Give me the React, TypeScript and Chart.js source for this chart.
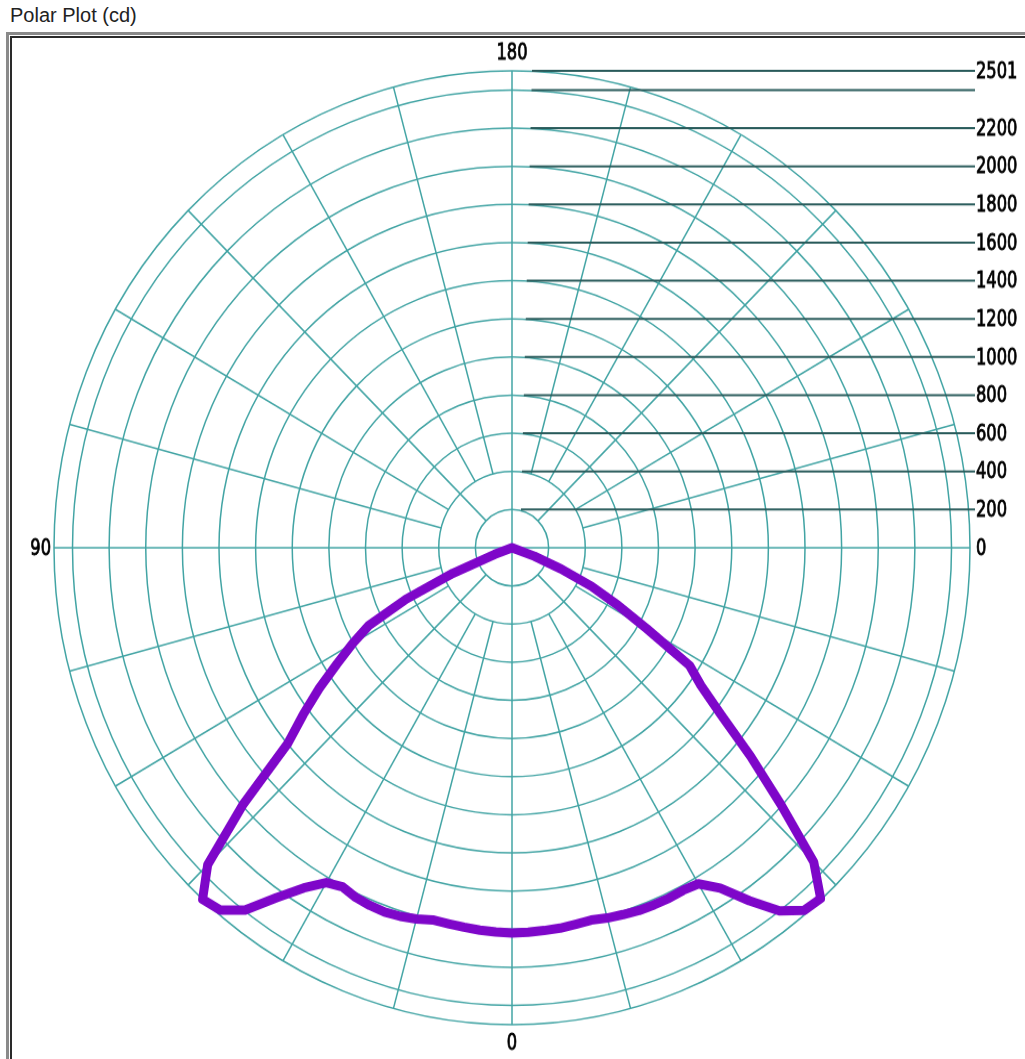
import React, { useEffect, useRef } from 'react';
import { Chart, registerables } from 'chart.js';

Chart.register(...registerables);

// ---- data ----
const STEP = 2.5;
// gamma angles (degrees from nadir) for each half-plane
const gammaAngles = [0, 2.5, 5, 7.5, 10, 12.5, 15, 17.5, 20, 22.5, 25, 27.5, 30, 32.5, 35, 37.5, 40, 42.5, 45,
  47.5, 50, 52.5, 55, 57.5, 60, 62.5, 65, 67.5, 70, 72.5, 75, 77.5, 80, 82.5, 85, 87.5, 90,
  92.5, 95, 97.5, 100, 102.5, 105, 107.5, 110, 112.5, 115, 117.5, 120, 122.5, 125, 127.5, 130, 132.5, 135,
  137.5, 140, 142.5, 145, 147.5, 150, 152.5, 155, 157.5, 160, 162.5, 165, 167.5, 170, 172.5, 175, 177.5, 180];
// left half (drawn on the left of the plot), cd
const intensityLeft = [2021, 2017, 2013, 2007, 2002, 1999, 2015, 2027, 2033, 2030, 2022, 2005, 2028, 2115, 2240, 2395, 2480, 2501, 2350,
  1990, 1600, 1437, 1285, 1133, 1005, 880, 638, 350, 100, 0, 0, 0, 0, 0, 0, 0, 0,
  0, 0, 0, 0, 0, 0, 0, 0, 0, 0, 0, 0, 0, 0, 0, 0, 0, 0,
  0, 0, 0, 0, 0, 0, 0, 0, 0, 0, 0, 0, 0, 0, 0, 0, 0, 0];
// right half (drawn on the right of the plot), cd
const intensityRight = [2020, 2018, 2015, 2012, 2005, 2000, 2010, 2017, 2025, 2027, 2028, 2025, 2035, 2116, 2260, 2400, 2482, 2495, 2330,
  1990, 1700, 1440, 1260, 1150, 850, 650, 480, 290, 130, 0, 0, 0, 0, 0, 0, 0, 0,
  0, 0, 0, 0, 0, 0, 0, 0, 0, 0, 0, 0, 0, 0, 0, 0, 0, 0,
  0, 0, 0, 0, 0, 0, 0, 0, 0, 0, 0, 0, 0, 0, 0, 0, 0, 0];

const ringTicks = [0, 200, 400, 600, 800, 1000, 1200, 1400, 1600, 1800, 2000, 2200, 2400, 2501];
const ringLabels = ['0', '200', '400', '600', '800', '1000', '1200', '1400', '1600', '1800', '2000', '2200', '', '2501'];
const spokeAngles = [0, 15, 30, 45, 60, 75, 90, 105, 120, 135, 150, 165, 180, 195, 210, 225, 240, 255, 270, 285, 300, 315, 330, 345];
const axisLabels = [
  { angle: 0, text: '0' },
  { angle: 90, text: '90' },
  { angle: 180, text: '180' },
];

// ---- styling ----
const GRID = '#42a4a4';
const TICKLINE = '#285a5a';
const CURVE = '#7e06c9';
const FONT = '22px "DejaVu Sans", Verdana, sans-serif';
const TEXT_SQUEEZE = 0.74;
const PAGE_W = 1025;
const PAGE_H = 1059;
const STRETCH = 1.0414;
const CANVAS_H = Math.round(PAGE_H / STRETCH);

// labels/data around the full circle: left half 0..180, then right half back down to just above 0
const fullGammas: number[] = [];
const fullValues: number[] = [];
gammaAngles.forEach((g, i) => { fullGammas.push(g); fullValues.push(intensityLeft[i]); });
for (let i = gammaAngles.length - 2; i >= 1; i--) {
  fullGammas.push(gammaAngles[i]);
  fullValues.push(intensityRight[i]);
}

function narrowText(ctx: CanvasRenderingContext2D, text: string, x: number, y: number, align: CanvasTextAlign) {
  ctx.save();
  ctx.translate(x, y);
  ctx.scale(TEXT_SQUEEZE, 1);
  ctx.textAlign = align;
  ctx.fillText(text, 0, 0);
  ctx.lineWidth = 0.9;
  ctx.strokeStyle = '#000';
  ctx.strokeText(text, 0, 0);
  ctx.restore();
}

const decorPlugin = {
  id: 'polarDecor',
  beforeDatasetsDraw(chart: any) {
    const s = chart.scales.r;
    const ctx = chart.ctx as CanvasRenderingContext2D;
    const maxV = ringTicks[ringTicks.length - 1];
    ctx.save();
    // spokes
    ctx.strokeStyle = GRID;
    ctx.lineWidth = 1.5;
    spokeAngles.forEach((a) => {
      const idx = a / STEP;
      const startV = a % 90 === 0 ? 0 : a % 45 === 0 ? ringTicks[1] : ringTicks[2];
      const p0 = s.getPointPositionForValue(idx, startV);
      const p1 = s.getPointPositionForValue(idx, maxV);
      ctx.beginPath();
      ctx.moveTo(p0.x, p0.y);
      ctx.lineTo(p1.x, p1.y);
      ctx.stroke();
    });
    // radial value lines and labels on the right
    const xEnd = s.xCenter + s.drawingArea + 5;
    ctx.font = FONT;
    ctx.textBaseline = 'middle';
    ctx.fillStyle = '#000';
    ringTicks.forEach((v, i) => {
      const y = s.yCenter - s.getDistanceFromCenterForValue(v);
      if (v > 0) {
        ctx.strokeStyle = TICKLINE;
        ctx.lineWidth = 2;
        ctx.beginPath();
        ctx.moveTo(s.xCenter + 8 + (12 * v) / maxV, y);
        ctx.lineTo(xEnd, y);
        ctx.stroke();
      }
      if (ringLabels[i]) narrowText(ctx, ringLabels[i], xEnd + 1, y + 1, 'left');
    });
    // angle labels
    axisLabels.forEach(({ angle, text }) => {
      const idx = angle / STEP;
      const p = s.getPointPositionForValue(idx, maxV);
      if (angle === 180) {
        narrowText(ctx, text, p.x, p.y - 17, 'center');
      } else if (angle === 0) {
        narrowText(ctx, text, p.x, p.y + 18, 'center');
      } else {
        narrowText(ctx, text, p.x - 3, p.y + 1, 'right');
      }
    });
    ctx.restore();
  },
};

export default function App() {
  const canvasRef = useRef<HTMLCanvasElement | null>(null);

  useEffect(() => {
    if (!canvasRef.current) return;
    const R = 458;
    const cx = 512;
    const cy = 526;
    const chart = new Chart(canvasRef.current, {
      type: 'radar',
      data: {
        labels: fullGammas.map((g) => String(g)),
        datasets: [
          {
            data: fullValues,
            borderColor: CURVE,
            borderWidth: 9,
            pointRadius: 0,
            fill: false,
            tension: 0,
            borderJoinStyle: 'round',
          },
        ],
      },
      options: {
        responsive: false,
        animation: false,
        layout: {
          padding: { left: cx - R, top: cy - R, right: PAGE_W - (cx + R), bottom: CANVAS_H - (cy + R) },
        },
        plugins: { legend: { display: false }, tooltip: { enabled: false } },
        scales: {
          r: {
            min: 0,
            max: 2501,
            startAngle: 180,
            afterBuildTicks: (scale: any) => {
              scale.ticks = ringTicks.map((v) => ({ value: v }));
            },
            ticks: { display: false },
            grid: { circular: true, color: GRID, lineWidth: 1.5 },
            angleLines: { display: false },
            pointLabels: { display: false },
          },
        },
      },
      plugins: [decorPlugin],
    } as any);
    return () => chart.destroy();
  }, []);

  return (
    <div style={{ position: 'absolute', left: 0, top: 0, width: PAGE_W, height: PAGE_H, overflow: 'hidden', background: '#fff' }}>
      <div style={{ position: 'absolute', left: 10, top: 5, font: '20px "Liberation Sans", Arial, sans-serif', lineHeight: '20px', color: '#222' }}>
        Polar Plot (cd)
      </div>
      <div style={{ position: 'absolute', left: 6, top: 32, width: 1040, height: 1040, border: '3px solid #8a8a8a' }}>
        <div style={{ position: 'absolute', left: 1, top: 1, right: 1, bottom: 1, border: '2px solid #2a2a2a' }} />
      </div>
      <canvas
        ref={canvasRef}
        width={PAGE_W}
        height={CANVAS_H}
        style={{ position: 'absolute', left: 0, top: 0, width: PAGE_W + 'px', height: PAGE_H + 'px' }}
      />
    </div>
  );
}
